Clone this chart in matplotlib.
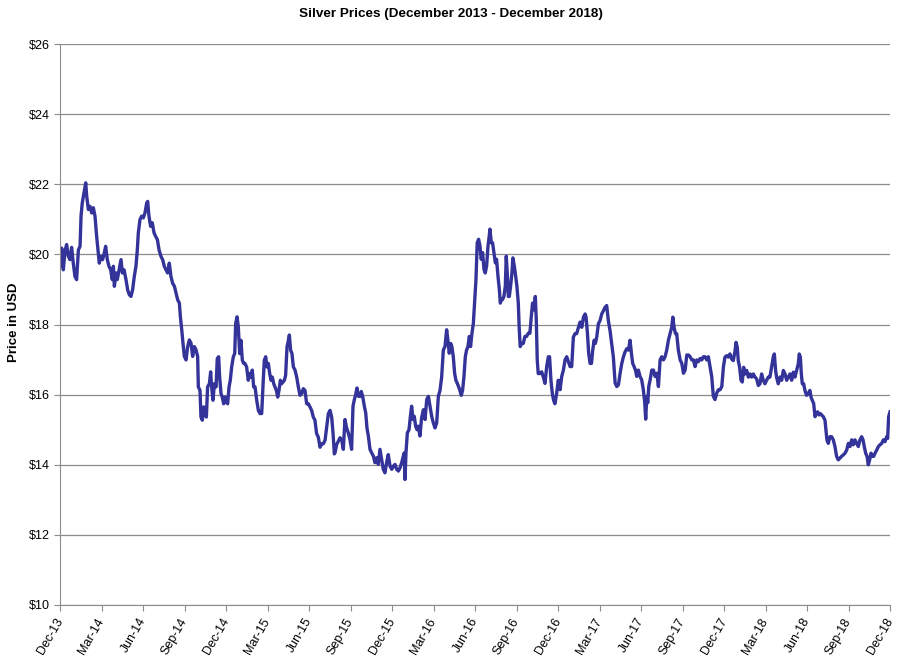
import numpy as np
import matplotlib
matplotlib.use("Agg")
import matplotlib.pyplot as plt

plt.rcParams['font.family'] = ['Liberation Sans', 'DejaVu Sans']

# months since Dec-13 and silver price (USD)
months_a = [0.00, 0.12, 0.24, 0.36, 0.48, 0.60, 0.72, 0.84, 0.96, 1.08,
            1.20, 1.33, 1.45, 1.52, 1.61, 1.73, 1.86, 1.93, 2.05, 2.17,
            2.29, 2.41, 2.53, 2.65, 2.72, 2.84, 2.96, 3.08, 3.20, 3.30,
            3.42, 3.54, 3.66, 3.78, 3.86, 3.93, 4.05, 4.14, 4.27, 4.41,
            4.51, 4.63, 4.77, 4.89, 5.01, 5.13, 5.25, 5.37, 5.49, 5.59,
            5.66, 5.78, 5.90, 6.02, 6.14, 6.27, 6.34, 6.43, 6.55, 6.67,
            6.80, 6.92, 7.04, 7.16, 7.30, 7.42, 7.54, 7.66, 7.78, 7.90,
            8.02, 8.14, 8.27, 8.39, 8.51, 8.63, 8.70, 8.80, 8.89, 8.99,
            9.11, 9.23, 9.35, 9.47, 9.59, 9.71, 9.83, 9.95]
price_a = [19.66, 20.18, 19.56, 20.10, 20.28, 19.95, 19.85, 20.20, 19.75, 19.37,
           19.28, 20.13, 20.23, 21.09, 21.47, 21.75, 22.04, 21.66, 21.28, 21.37,
           21.18, 21.33, 21.09, 20.51, 20.23, 19.75, 19.94, 19.85, 20.04, 20.23,
           19.85, 19.66, 19.56, 19.28, 19.66, 19.09, 19.47, 19.28, 19.56, 19.85,
           19.47, 19.56, 19.28, 18.99, 18.85, 18.80, 18.99, 19.37, 19.66, 20.13,
           20.61, 20.99, 21.09, 21.04, 21.18, 21.47, 21.51, 21.09, 20.80, 20.90,
           20.61, 20.51, 20.42, 20.13, 19.94, 19.85, 19.66, 19.56, 19.47, 19.75,
           19.37, 19.18, 19.09, 18.90, 18.70, 18.61, 18.23, 17.85, 17.47, 17.09,
           16.99, 17.37, 17.56, 17.47, 17.09, 17.37, 17.28, 17.09]

months_b = [10.00, 10.12, 10.19, 10.29, 10.39, 10.48, 10.58, 10.67, 10.80, 10.89,
            10.96, 11.06, 11.16, 11.28, 11.37, 11.47, 11.54, 11.64, 11.73, 11.83,
            11.93, 12.02, 12.12, 12.22, 12.31, 12.41, 12.53, 12.63, 12.70, 12.80,
            12.89, 12.99, 13.08, 13.18, 13.28, 13.37, 13.49, 13.61, 13.71, 13.81,
            13.90, 14.00, 14.10, 14.22, 14.34, 14.46, 14.58, 14.67, 14.77, 14.87,
            14.96, 15.06, 15.16, 15.25, 15.35, 15.45, 15.54, 15.64, 15.74, 15.83,
            15.93, 16.02, 16.12, 16.22, 16.31, 16.41, 16.51, 16.58, 16.67, 16.77,
            16.87, 16.99, 17.11, 17.23, 17.35, 17.47, 17.59, 17.71, 17.83, 17.95,
            18.07, 18.19, 18.31, 18.43, 18.55, 18.67, 18.80, 18.92, 19.04, 19.16,
            19.28, 19.40, 19.52, 19.64, 19.74, 19.83]
price_b = [16.22, 16.12, 15.36, 15.27, 15.65, 15.46, 15.36, 16.22, 16.31, 16.65,
           16.22, 15.84, 16.31, 16.22, 17.03, 17.08, 16.50, 16.03, 15.93, 15.74,
           15.93, 15.79, 15.74, 16.22, 16.41, 16.79, 17.08, 17.17, 18.03, 18.22,
           17.93, 17.17, 17.55, 16.98, 16.89, 16.89, 16.79, 16.41, 16.60, 16.50,
           16.70, 16.22, 16.22, 15.84, 15.55, 15.46, 15.46, 16.22, 16.98, 17.08,
           16.79, 16.89, 16.60, 16.41, 16.50, 16.31, 16.22, 16.12, 15.93, 16.12,
           16.41, 16.31, 16.36, 16.41, 16.55, 17.36, 17.55, 17.70, 17.27, 17.17,
           16.79, 16.70, 16.50, 16.22, 15.98, 16.03, 16.17, 16.12, 15.74, 15.74,
           15.65, 15.55, 15.36, 15.27, 14.89, 14.79, 14.50, 14.60, 14.60, 14.70,
           15.08, 15.46, 15.55, 15.36, 14.89, 14.31]

months_c = [19.88, 20.00, 20.12, 20.24, 20.36, 20.48, 20.60, 20.72, 20.84, 20.96,
            21.08, 21.18, 21.28, 21.37, 21.47, 21.57, 21.69, 21.78, 21.88, 22.00,
            22.10, 22.19, 22.29, 22.41, 22.53, 22.65, 22.77, 22.89, 23.01, 23.13,
            23.25, 23.37, 23.49, 23.61, 23.73, 23.86, 23.98, 24.10, 24.22, 24.34,
            24.46, 24.58, 24.70, 24.82, 24.89, 24.94, 25.01, 25.11, 25.23, 25.33,
            25.42, 25.52, 25.61, 25.71, 25.81, 25.90, 26.02, 26.14, 26.27, 26.39,
            26.51, 26.63, 26.75, 26.87, 26.99, 27.11, 27.23, 27.35]
price_c = [14.34, 14.58, 14.67, 14.77, 14.72, 14.44, 15.29, 15.05, 14.91, 14.72,
           14.44, 15.67, 15.86, 16.00, 16.19, 15.95, 15.95, 16.09, 15.95, 15.67,
           15.48, 15.05, 14.82, 14.44, 14.34, 14.25, 14.06, 14.20, 14.01, 14.44,
           14.15, 13.87, 13.77, 14.06, 14.29, 13.96, 13.87, 13.96, 14.01, 13.87,
           13.82, 13.91, 14.06, 14.25, 14.34, 13.58, 14.34, 14.91, 15.00, 15.38,
           15.67, 15.29, 15.38, 15.10, 15.00, 15.10, 14.82, 15.34, 15.57, 15.29,
           15.86, 15.95, 15.67, 15.38, 15.19, 15.05, 15.19, 15.95]

months_d = [27.47, 27.59, 27.71, 27.83, 27.95, 28.04, 28.14, 28.24, 28.33, 28.43,
            28.53, 28.62, 28.72, 28.82, 28.91, 29.01, 29.10, 29.20, 29.30, 29.39,
            29.49, 29.59, 29.68, 29.78, 29.88, 29.97, 30.07, 30.16, 30.26, 30.36,
            30.45, 30.55, 30.65, 30.74, 30.84, 30.94, 31.03, 31.08, 31.18, 31.27,
            31.37, 31.47, 31.56, 31.66, 31.76, 31.83, 31.90, 31.99, 32.09, 32.19,
            32.26, 32.33, 32.41, 32.48, 32.57, 32.67, 32.74, 32.84, 32.94, 33.03,
            33.13, 33.20, 33.27, 33.37, 33.49, 33.61, 33.73, 33.85, 33.97, 34.07,
            34.16, 34.26, 34.36, 34.43, 34.50, 34.57, 34.69, 34.82, 34.94, 35.06,
            35.18, 35.30, 35.39, 35.49, 35.59, 35.68, 35.78, 35.90, 36.02]
price_d = [16.12, 16.50, 17.27, 17.37, 17.85, 17.56, 17.18, 17.46, 17.37, 17.08,
           16.60, 16.41, 16.32, 16.22, 16.12, 15.98, 16.12, 16.50, 17.08, 17.27,
           17.37, 17.66, 17.37, 17.75, 18.03, 18.61, 19.28, 20.33, 20.43, 20.24,
           19.86, 20.05, 19.57, 19.47, 19.67, 20.24, 20.53, 20.72, 20.33, 20.33,
           20.05, 19.76, 19.86, 19.38, 19.00, 18.61, 18.71, 18.71, 18.80, 19.09,
           19.95, 19.47, 18.80, 18.80, 19.09, 19.47, 19.90, 19.67, 19.38, 19.09,
           18.61, 17.85, 17.37, 17.46, 17.46, 17.66, 17.66, 17.75, 17.75, 18.23,
           18.61, 18.42, 18.80, 18.13, 16.99, 16.60, 16.60, 16.65, 16.50, 16.32,
           16.79, 17.08, 17.08, 16.41, 16.03, 15.84, 15.74, 16.03, 16.41]

months_e = [36.15, 36.27, 36.39, 36.51, 36.63, 36.75, 36.87, 36.99, 37.11, 37.23,
            37.35, 37.48, 37.60, 37.72, 37.84, 37.96, 38.03, 38.13, 38.22, 38.32,
            38.42, 38.51, 38.61, 38.70, 38.80, 38.92, 39.04, 39.16, 39.28, 39.40,
            39.52, 39.64, 39.76, 39.88, 40.00, 40.13, 40.25, 40.37, 40.49, 40.61,
            40.73, 40.85, 40.97, 41.09, 41.21, 41.31, 41.40, 41.50, 41.60, 41.69,
            41.81, 41.93, 42.05, 42.17, 42.27, 42.34, 42.42, 42.49, 42.56, 42.66,
            42.78, 42.90, 43.02, 43.14, 43.26, 43.38, 43.50, 43.62, 43.74, 43.86,
            43.98, 44.10, 44.22, 44.30, 44.39, 44.49, 44.58, 44.70, 44.83, 44.95,
            45.07, 45.19, 45.31, 45.43, 45.55, 45.67, 45.79, 45.91, 46.03, 46.15,
            46.27, 46.39, 46.51, 46.63, 46.75, 46.87, 46.99, 47.11, 47.23, 47.35,
            47.48, 47.60, 47.72, 47.84, 47.96]
price_e = [16.14, 16.52, 16.70, 16.99, 17.08, 16.94, 16.80, 16.80, 17.64, 17.74,
           17.74, 17.92, 18.07, 17.92, 18.21, 18.30, 18.21, 17.74, 17.17, 16.89,
           16.89, 17.27, 17.55, 17.46, 17.64, 18.02, 18.11, 18.30, 18.39, 18.49,
           18.54, 18.11, 17.83, 17.46, 17.08, 16.33, 16.23, 16.28, 16.61, 16.89,
           17.08, 17.22, 17.31, 17.27, 17.55, 17.17, 16.89, 16.80, 16.70, 16.52,
           16.70, 16.52, 16.42, 16.14, 15.77, 15.30, 15.95, 15.77, 16.23, 16.42,
           16.70, 16.70, 16.52, 16.61, 16.23, 16.99, 17.08, 16.99, 17.08, 17.27,
           17.55, 17.74, 17.92, 18.21, 17.92, 17.74, 17.74, 17.27, 16.99, 16.89,
           16.61, 16.70, 17.13, 17.13, 17.08, 16.99, 16.99, 16.80, 16.99, 16.94,
           17.03, 16.99, 17.08, 17.08, 16.99, 17.08, 16.80, 16.52, 15.95, 15.86,
           16.05, 16.14, 16.14, 16.23, 16.80]

months_f = [48.07, 48.19, 48.31, 48.43, 48.55, 48.67, 48.80, 48.87, 48.96, 49.03,
            49.13, 49.23, 49.32, 49.42, 49.52, 49.64, 49.76, 49.88, 50.00, 50.12,
            50.24, 50.36, 50.48, 50.60, 50.72, 50.84, 50.96, 51.08, 51.20, 51.32,
            51.44, 51.56, 51.64, 51.73, 51.80, 51.92, 52.05, 52.17, 52.29, 52.41,
            52.53, 52.65, 52.77, 52.89, 53.01, 53.13, 53.25, 53.37, 53.44, 53.52,
            53.59, 53.66, 53.76, 53.85, 53.97, 54.09, 54.21, 54.29, 54.38, 54.48,
            54.58, 54.67, 54.77, 54.87, 54.96, 55.06, 55.18, 55.30, 55.37, 55.44,
            55.54, 55.66, 55.78, 55.90, 56.02, 56.14, 56.26, 56.38, 56.50, 56.62,
            56.75, 56.87, 56.99, 57.11, 57.23, 57.35, 57.47, 57.59, 57.71, 57.83,
            57.95, 58.05, 58.14, 58.24, 58.34, 58.43, 58.53, 58.63, 58.72, 58.82,
            58.92, 59.04, 59.16, 59.28, 59.40, 59.52, 59.64, 59.76, 59.83, 59.90,
            60.00]
price_f = [17.07, 17.11, 17.07, 17.16, 17.02, 16.97, 17.25, 17.49, 17.35, 16.97,
           16.78, 16.41, 16.36, 16.78, 16.59, 16.69, 16.50, 16.59, 16.50, 16.59,
           16.50, 16.45, 16.26, 16.31, 16.59, 16.41, 16.31, 16.41, 16.50, 16.50,
           16.78, 17.07, 17.16, 16.69, 16.50, 16.31, 16.50, 16.41, 16.69, 16.59,
           16.41, 16.50, 16.59, 16.41, 16.64, 16.50, 16.69, 16.88, 17.16, 17.07,
           16.59, 16.31, 16.31, 16.12, 15.98, 16.03, 16.12, 15.93, 15.84, 15.75,
           15.37, 15.46, 15.51, 15.42, 15.46, 15.42, 15.37, 15.27, 14.99, 14.71,
           14.61, 14.80, 14.80, 14.71, 14.52, 14.24, 14.14, 14.19, 14.24, 14.28,
           14.33, 14.42, 14.61, 14.52, 14.71, 14.57, 14.71, 14.61, 14.52, 14.71,
           14.80, 14.71, 14.52, 14.33, 14.24, 14.00, 14.14, 14.33, 14.24, 14.24,
           14.33, 14.42, 14.52, 14.57, 14.61, 14.71, 14.66, 14.80, 14.75, 15.37,
           15.51]

tick_labels = ['Dec-13', 'Mar-14', 'Jun-14', 'Sep-14', 'Dec-14', 'Mar-15', 'Jun-15',
               'Sep-15', 'Dec-15', 'Mar-16', 'Jun-16', 'Sep-16', 'Dec-16', 'Mar-17',
               'Jun-17', 'Sep-17', 'Dec-17', 'Mar-18', 'Jun-18', 'Sep-18', 'Dec-18']

months = np.concatenate([months_a, months_b, months_c, months_d, months_e, months_f])
prices = np.concatenate([price_a, price_b, price_c, price_d, price_e, price_f])

fig = plt.figure(figsize=(9.02, 6.69), dpi=100)
ax = fig.add_axes([60/902, 64/669, 830/902, 561/669])

ax.plot(months, prices, color='#333399', lw=2.4, solid_joinstyle='round')

ax.set_xlim(0, 60)
ax.set_ylim(10, 26)
ax.set_yticks(np.arange(10, 27, 2))
ax.set_yticklabels(['$%d' % v for v in np.arange(10, 27, 2)], fontsize=9)
ax.set_xticks(np.arange(0, 61, 3))
ax.set_xticklabels(tick_labels, rotation=60, ha='right', va='center',
                   rotation_mode='anchor', fontsize=9)
ax.grid(axis='y', color='#8c8c8c', lw=0.9)
ax.set_axisbelow(True)
for s in ['top', 'right']:
    ax.spines[s].set_visible(False)
for s in ['left', 'bottom']:
    ax.spines[s].set_color('#8c8c8c')
ax.tick_params(axis='both', colors='#8c8c8c', labelcolor='black', length=4)
ax.tick_params(axis='x', pad=6)

fig.text(0.5, 1 - 14/669, 'Silver Prices (December 2013 - December 2018)',
         ha='center', va='center', fontsize=9.7, fontweight='bold')
fig.text(14/902, 1 - 322/669, 'Price in USD', rotation=90, ha='center', va='center',
         fontsize=9.5, fontweight='bold')

fig.savefig('out.png', dpi=100)
